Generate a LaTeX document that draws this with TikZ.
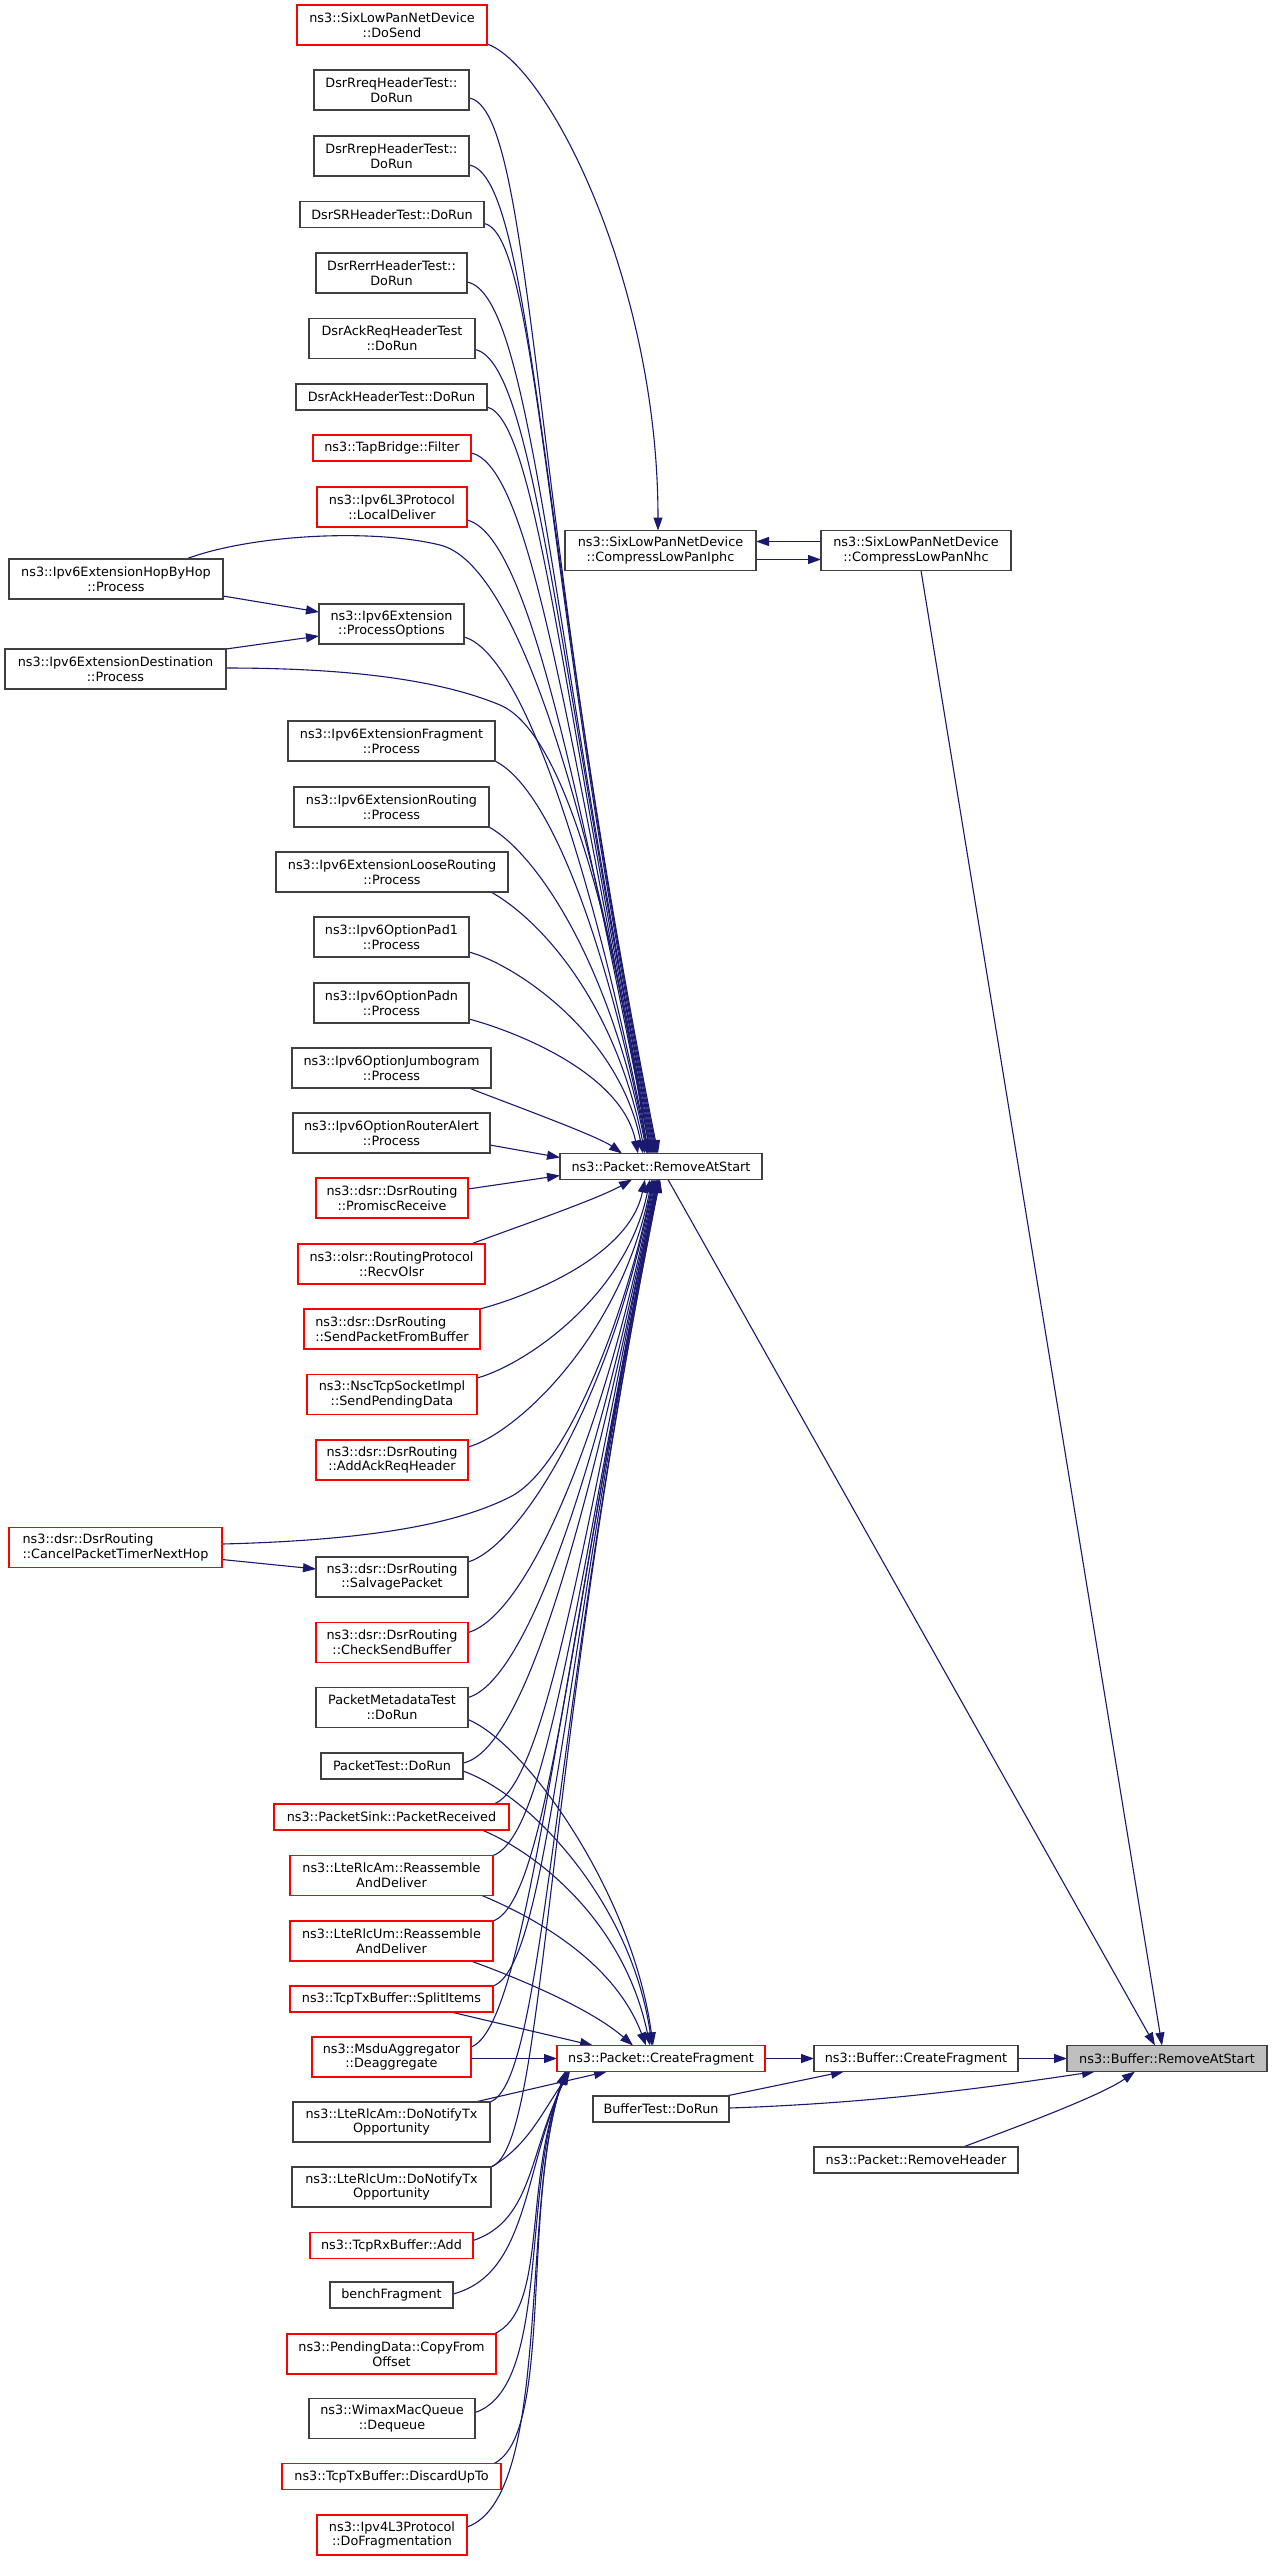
\documentclass[tikz,border=0pt]{standalone}
\usepackage{fontspec}
\setmainfont{DejaVu Sans}
\usetikzlibrary{arrows.meta,calc}
\pgfdeclarelayer{bg}
\pgfsetlayers{bg,main}
\definecolor{navy}{HTML}{191970}
\definecolor{gborder}{HTML}{404040}
\definecolor{hfill}{HTML}{BFBFBF}
\newcommand\nfont{\fontsize{12.8}{14.7}\selectfont}
\tikzset{
  nbox/.style={draw=gborder, fill=white, line width=1.2pt, inner sep=0pt, outer sep=0pt, align=center, font=\nfont, text=black},
  rb/.style={draw=red},
  hl/.style={fill=hfill},
  one/.style={minimum height=26pt},
  two/.style={minimum height=40pt},
  conn/.style={draw=navy, line width=1.1pt, -{Triangle[length=13pt,width=9pt]}}
}
\begin{document}
\begin{tikzpicture}[x=1pt,y=-1pt]
\useasboundingbox (0,0) rectangle (1272,2565);
% column 2
\node[nbox,rb,two,minimum width=190pt] (dosend) at (392,25) {ns3::SixLowPanNetDevice\\::DoSend};
\node[nbox,two,minimum width=155pt] (rreq) at (391.5,90) {DsrRreqHeaderTest::\\DoRun};
\node[nbox,two,minimum width=155pt] (rrep) at (391.5,156) {DsrRrepHeaderTest::\\DoRun};
\node[nbox,one,minimum width=184pt] (dsrsr) at (392,214.5) {DsrSRHeaderTest::DoRun};
\node[nbox,two,minimum width=151pt] (rerr) at (391.5,273) {DsrRerrHeaderTest::\\DoRun};
\node[nbox,two,minimum width=166pt] (ackreq) at (392,338.5) {DsrAckReqHeaderTest\\::DoRun};
\node[nbox,one,minimum width=191pt] (ack) at (391.5,397) {DsrAckHeaderTest::DoRun};
\node[nbox,rb,one,minimum width=158pt] (tap) at (392,448) {ns3::TapBridge::Filter};
\node[nbox,rb,two,minimum width=150pt] (local) at (392,507) {ns3::Ipv6L3Protocol\\::LocalDeliver};
\node[nbox,two,minimum width=145pt] (procopt) at (391.5,624) {ns3::Ipv6Extension\\::ProcessOptions};
\node[nbox,two,minimum width=207pt] (frag) at (391.5,741) {ns3::Ipv6ExtensionFragment\\::Process};
\node[nbox,two,minimum width=195pt] (routing) at (391.5,807) {ns3::Ipv6ExtensionRouting\\::Process};
\node[nbox,two,minimum width=232pt] (loose) at (392,872) {ns3::Ipv6ExtensionLooseRouting\\::Process};
\node[nbox,two,minimum width=155pt] (pad1) at (391.5,937) {ns3::Ipv6OptionPad1\\::Process};
\node[nbox,two,minimum width=155pt] (padn) at (391.5,1003) {ns3::Ipv6OptionPadn\\::Process};
\node[nbox,two,minimum width=199pt] (jumbo) at (391.5,1068) {ns3::Ipv6OptionJumbogram\\::Process};
\node[nbox,two,minimum width=197pt] (ralert) at (391.5,1133) {ns3::Ipv6OptionRouterAlert\\::Process};
\node[nbox,rb,two,minimum width=152pt] (promisc) at (392,1198) {ns3::dsr::DsrRouting\\::PromiscReceive};
\node[nbox,rb,two,minimum width=187pt] (olsr) at (391.5,1264) {ns3::olsr::RoutingProtocol\\::RecvOlsr};
\node[nbox,rb,two,minimum width=176pt,align=left] (spfb) at (392,1329) {ns3::dsr::DsrRouting\\::SendPacketFromBuffer};
\node[nbox,rb,two,minimum width=170pt] (spd) at (392,1394.5) {ns3::NscTcpSocketImpl\\::SendPendingData};
\node[nbox,rb,two,minimum width=152pt] (aarh) at (392,1460) {ns3::dsr::DsrRouting\\::AddAckReqHeader};
\node[nbox,two,minimum width=152pt] (salvage) at (392,1577) {ns3::dsr::DsrRouting\\::SalvagePacket};
\node[nbox,rb,two,minimum width=152pt] (csb) at (392,1642.5) {ns3::dsr::DsrRouting\\::CheckSendBuffer};
\node[nbox,two,minimum width=152pt] (pmt) at (392,1707.5) {PacketMetadataTest\\::DoRun};
\node[nbox,one,minimum width=142pt] (ptest) at (392,1766) {PacketTest::DoRun};
\node[nbox,rb,one,minimum width=235pt] (psink) at (391.5,1817) {ns3::PacketSink::PacketReceived};
\node[nbox,rb,two,minimum width=203pt] (amre) at (391.5,1875.5) {ns3::LteRlcAm::Reassemble\\AndDeliver};
\node[nbox,rb,two,minimum width=203pt] (umre) at (391.5,1941) {ns3::LteRlcUm::Reassemble\\AndDeliver};
\node[nbox,rb,one,minimum width=203pt] (split) at (391.5,1999) {ns3::TcpTxBuffer::SplitItems};
\node[nbox,rb,two,minimum width=159pt] (msdu) at (391.5,2057) {ns3::MsduAggregator\\::Deaggregate};
\node[nbox,two,minimum width=197pt] (amtx) at (391.5,2122) {ns3::LteRlcAm::DoNotifyTx\\Opportunity};
\node[nbox,two,minimum width=199pt] (umtx) at (391.5,2187) {ns3::LteRlcUm::DoNotifyTx\\Opportunity};
\node[nbox,rb,one,minimum width=163pt] (rxadd) at (391.5,2245.5) {ns3::TcpRxBuffer::Add};
\node[nbox,one,minimum width=123pt] (bench) at (391.5,2295) {benchFragment};
\node[nbox,rb,two,minimum width=209pt] (pending) at (391.5,2354) {ns3::PendingData::CopyFrom\\Offset};
\node[nbox,two,minimum width=166pt] (wimax) at (392,2418.5) {ns3::WimaxMacQueue\\::Dequeue};
\node[nbox,rb,one,minimum width=219pt] (discard) at (391.5,2476.5) {ns3::TcpTxBuffer::DiscardUpTo};
\node[nbox,rb,two,minimum width=150pt] (dofrag) at (392,2535) {ns3::Ipv4L3Protocol\\::DoFragmentation};
% column 1
\node[nbox,two,minimum width=214pt] (hbh) at (116,579) {ns3::Ipv6ExtensionHopByHop\\::Process};
\node[nbox,two,minimum width=221pt] (dest) at (115.5,669) {ns3::Ipv6ExtensionDestination\\::Process};
\node[nbox,rb,two,minimum width=213pt,align=left] (cancel) at (115.5,1547.5) {ns3::dsr::DsrRouting\\::CancelPacketTimerNextHop};
% column 3
\node[nbox,two,minimum width=191pt] (iphc) at (660.5,550.5) {ns3::SixLowPanNetDevice\\::CompressLowPanIphc};
\node[nbox,one,minimum width=202pt] (prat) at (661,1166.5) {ns3::Packet::RemoveAtStart};
\node[nbox,rb,one,minimum width=208pt] (pcf) at (661,2058.5) {ns3::Packet::CreateFragment};
\node[nbox,one,minimum width=136pt] (btest) at (661,2109) {BufferTest::DoRun};
% column 4
\node[nbox,two,minimum width=190pt] (nhc) at (916,550.5) {ns3::SixLowPanNetDevice\\::CompressLowPanNhc};
\node[nbox,one,minimum width=204pt] (bcf) at (916,2058.5) {ns3::Buffer::CreateFragment};
\node[nbox,one,minimum width=204pt] (rhdr) at (916,2160) {ns3::Packet::RemoveHeader};
% column 5
\node[nbox,hl,one,minimum width=200pt] (brat) at (1167,2058.5) {ns3::Buffer::RemoveAtStart};

\begin{pgfonlayer}{bg}
% upper callers into Packet::RemoveAtStart (top)
\draw[conn] ($(rreq.east)+(0,8)$) .. controls +(65,10) and +(-127,-634) .. ($(prat.north west)+(97,0)$);
\draw[conn] ($(rrep.east)+(0,9)$) .. controls +(65,10) and +(-119,-593) .. ($(prat.north west)+(98,0)$);
\draw[conn] ($(dsrsr.east)+(0,9)$) .. controls +(55,10) and +(-112,-558) .. ($(prat.north west)+(96,0)$);
\draw[conn] ($(rerr.east)+(0,9)$) .. controls +(65,12) and +(-105,-523) .. ($(prat.north west)+(95,0)$);
\draw[conn] ($(ackreq.east)+(0,11)$) .. controls +(60,12) and +(-96,-482) .. ($(prat.north west)+(94,0)$);
\draw[conn] ($(ack.east)+(0,10)$) .. controls +(50,12) and +(-90,-448) .. ($(prat.north west)+(93,0)$);
\draw[conn] ($(tap.east)+(0,5)$) .. controls +(60,12) and +(-84,-421) .. ($(prat.north west)+(92,0)$);
\draw[conn] ($(local.east)+(0,13)$) .. controls +(60,15) and +(-76,-380) .. ($(prat.north west)+(91,0)$);
\draw[conn] ($(procopt.east)+(0,13)$) .. controls +(55,15) and +(-62,-310) .. ($(prat.north west)+(89,0)$);
\draw[conn] (frag.south east) .. controls +(50,25) and +(-47,-236) .. ($(prat.north west)+(88,0)$);
\draw[conn] (routing.south east) .. controls +(45,25) and +(-39,-197) .. ($(prat.north west)+(87,0)$);
\draw[conn] ($(loose.south east)+(-17,0)$) .. controls +(45,25) and +(-31,-157) .. ($(prat.north west)+(85,0)$);
\draw[conn] ($(pad1.east)+(0,15)$) .. controls +(45,12) and +(-24,-121) .. ($(prat.north west)+(83,0)$);
\draw[conn] ($(padn.east)+(0,16)$) .. controls +(45,12) and +(-16,-81) .. ($(prat.north west)+(78,0)$);
\draw[conn] ($(jumbo.south east)+(-22,0)$) .. controls +(30,12) and +(-25,-18) .. ($(prat.north west)+(62,0)$);
\draw[conn] ($(ralert.east)+(0,12)$) -- ($(prat.west)+(0,-9)$);
\draw[conn] ($(promisc.east)+(0,-9)$) -- ($(prat.west)+(0,9)$);
\draw[conn] ($(hbh.north east)+(-37,0)$) .. controls (250,535) and (370,528) .. (440,545) .. controls (515,563) and (590,800) .. ($(prat.north west)+(90,0)$);
\draw[conn] ($(dest.east)+(0,-1)$) .. controls (350,668) and (440,680) .. (500,705) .. controls (560,730) and (610,900) .. ($(prat.north west)+(88,0)$);
% lower callers into Packet::RemoveAtStart (bottom)
\draw[conn] ($(cancel.east)+(0,-3.5)$) .. controls (380,1540) and (460,1522) .. (510,1497) .. controls (570,1467) and (630,1300) .. ($(prat.south west)+(93,0)$);
\draw[conn] ($(olsr.north east)+(-14,0)$) .. controls +(40,-15) and +(-35,20) .. ($(prat.south west)+(72,0)$);
\draw[conn] (spfb.north east) .. controls +(45,-12) and +(-16,78) .. ($(prat.south west)+(85,0)$);
\draw[conn] ($(spd.east)+(0,-16.5)$) .. controls +(45,-12) and +(-24,119) .. ($(prat.south west)+(90,0)$);
\draw[conn] ($(aarh.east)+(0,-13)$) .. controls +(45,-12) and +(-32,161) .. ($(prat.south west)+(92,0)$);
\draw[conn] ($(salvage.east)+(0,-15)$) .. controls +(50,-15) and +(-46,230) .. ($(prat.south west)+(94,0)$);
\draw[conn] ($(csb.east)+(0,-10)$) .. controls +(55,-15) and +(-54,272) .. ($(prat.south west)+(95,0)$);
\draw[conn] ($(pmt.east)+(0,-10)$) .. controls +(55,-15) and +(-62,311) .. ($(prat.south west)+(96,0)$);
\draw[conn] ($(ptest.east)+(0,-3)$) .. controls +(60,-12) and +(-70,350) .. ($(prat.south west)+(97,0)$);
\draw[conn] ($(psink.north east)+(-15,0)$) .. controls +(50,-20) and +(-75,375) .. ($(prat.south west)+(97,0)$);
\draw[conn] (amre.north east) .. controls +(55,-20) and +(-81,406) .. ($(prat.south west)+(98,0)$);
\draw[conn] (umre.north east) .. controls +(55,-20) and +(-89,445) .. ($(prat.south west)+(98,0)$);
\draw[conn] (split.north east) .. controls +(55,-20) and +(-97,484) .. ($(prat.south west)+(99,0)$);
\draw[conn] ($(msdu.east)+(0,-10)$) .. controls +(55,-20) and +(-104,521) .. ($(prat.south west)+(99,0)$);
\draw[conn] (amtx.north east) .. controls +(55,-20) and +(-111,554) .. ($(prat.south west)+(100,0)$);
\draw[conn] (umtx.north east) .. controls +(55,-20) and +(-119,593) .. ($(prat.south west)+(100,0)$);
% callers into Packet::CreateFragment
\draw[conn] ($(pmt.east)+(0,12)$) .. controls +(60,25) and +(-20,-150) .. ($(pcf.north west)+(96,0)$);
\draw[conn] ($(ptest.east)+(0,5)$) .. controls +(70,25) and +(-20,-140) .. ($(pcf.north west)+(95,0)$);
\draw[conn] ($(psink.south east)+(-27,0)$) .. controls +(60,25) and +(-25,-120) .. ($(pcf.north west)+(93,0)$);
\draw[conn] ($(amre.south east)+(-11,0)$) .. controls +(60,25) and +(-30,-80) .. ($(pcf.north west)+(89,0)$);
\draw[conn] ($(umre.south east)+(-22,0)$) .. controls +(55,20) and +(-40,-35) .. ($(pcf.north west)+(76,0)$);
\draw[conn] ($(split.south east)+(-42,0)$) -- ($(pcf.north west)+(36,0)$);
\draw[conn] ($(msdu.east)+(0,1.5)$) -- (pcf.west);
\draw[conn] ($(amtx.north east)+(-15,0)$) -- ($(pcf.south west)+(50,0)$);
\draw[conn] (umtx.north east) .. controls +(35,-20) and +(-30,45) .. ($(pcf.south west)+(13,0)$);
\draw[conn] ($(rxadd.east)+(0,-5)$) .. controls +(60,-20) and +(-40,80) .. ($(pcf.south west)+(12,0)$);
\draw[conn] ($(bench.east)+(0,-1)$) .. controls +(75,-20) and +(-45,100) .. ($(pcf.south west)+(11,0)$);
\draw[conn] ($(pending.north east)+(-2,0)$) .. controls +(55,-25) and +(-45,110) .. ($(pcf.south west)+(10,0)$);
\draw[conn] ($(wimax.east)+(0,-6)$) .. controls +(75,-25) and +(-45,120) .. ($(pcf.south west)+(9,0)$);
\draw[conn] ($(discard.north east)+(-7,0)$) .. controls +(60,-30) and +(-45,130) .. ($(pcf.south west)+(9,0)$);
\draw[conn] ($(dofrag.east)+(0,-8)$) .. controls +(85,-30) and +(-45,140) .. ($(pcf.south west)+(8,0)$);
% right part
\draw[conn] (pcf.east) -- (bcf.west);
\draw[conn] (bcf.east) -- (brat.west);
\draw[conn] ($(btest.north east)+(-3,0)$) -- ($(bcf.south west)+(30,0)$);
\draw[conn] ($(btest.east)+(0,-1)$) .. controls +(150,-5) and +(-100,15) .. ($(brat.south west)+(28,0)$);
\draw[conn] ($(rhdr.north)+(47,0)$) .. controls +(40,-15) and +(-35,25) .. ($(brat.south west)+(68,0)$);
\draw[conn] ($(prat.south east)+(-94,0)$) -- ($(brat.north west)+(88,0)$);
\draw[conn] ($(nhc.south)+(5,0)$) -- ($(brat.north west)+(95,0)$);
\draw[conn] ($(nhc.west)+(0,-9)$) -- ($(iphc.east)+(0,-9)$);
\draw[conn] ($(iphc.east)+(0,9)$) -- ($(nhc.west)+(0,9)$);
\draw[conn] ($(dosend.east)+(0,19)$) .. controls +(60,20) and +(0,-250) .. ($(iphc.north west)+(93,0)$);
\draw[conn] ($(hbh.east)+(0,17)$) -- ($(procopt.west)+(0,-12)$);
\draw[conn] (dest.north east) -- ($(procopt.west)+(0,12)$);
\draw[conn] ($(cancel.east)+(0,12)$) -- ($(salvage.west)+(0,-8)$);
\end{pgfonlayer}
\end{tikzpicture}
\end{document}
